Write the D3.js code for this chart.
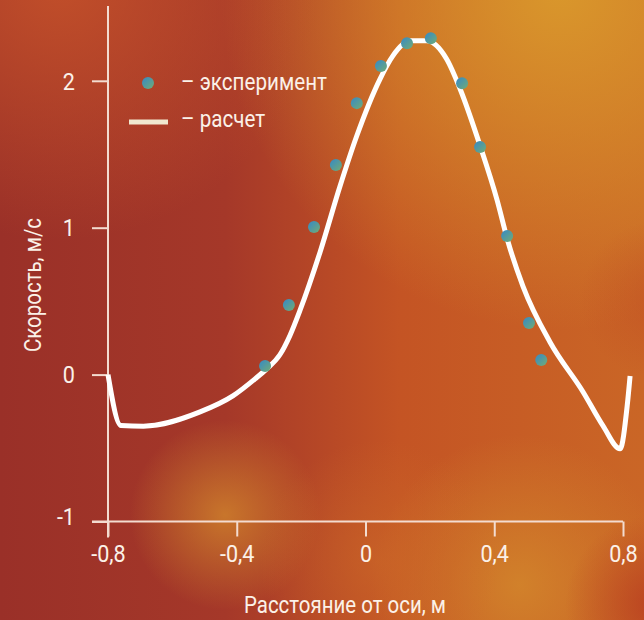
<!DOCTYPE html>
<html>
<head>
<meta charset="utf-8">
<script src="https://cdn.jsdelivr.net/npm/d3@7"></script>
<style>
  body { margin: 0; background: #b8462a; }
  text { font-family: Roboto, "Liberation Sans", sans-serif; fill: #fbf1e8; }
</style>
</head>
<body>
<div id="chart"></div>
<script>
// experiment points (distance from axis, m ; velocity, m/s)
const expX = [-0.312, -0.238, -0.160, -0.092, -0.027, 0.048, 0.129, 0.203, 0.300, 0.356, 0.440, 0.508, 0.546];
const expY = [0.059, 0.474, 1.005, 1.427, 1.848, 2.100, 2.256, 2.290, 1.984, 1.549, 0.944, 0.352, 0.100];

// calculated curve
const calcX = [-0.800, -0.760, -0.690, -0.514, -0.412, -0.343, -0.307, -0.266, -0.235, -0.203, -0.141, -0.079,
  -0.027, 0.045, 0.085, 0.138, 0.190, 0.252, 0.294, 0.356, 0.408, 0.443, 0.489, 0.573, 0.676, 0.738, 0.791, 0.813, 0.822];
const calcY = [0.00, -0.347, -0.351, -0.254, -0.145, -0.029, 0.039, 0.135, 0.265, 0.440, 0.835, 1.284,
  1.626, 2.012, 2.170, 2.272, 2.272, 2.148, 1.944, 1.558, 1.195, 0.903, 0.603, 0.222, -0.118, -0.349, -0.505, -0.213, -0.009];

const xTicks = [-0.8, -0.4, 0, 0.4, 0.8];
const yTicks = [-1, 0, 1, 2];

const legendLabels = ["– эксперимент", "– расчет"];
const xTitle = "Расстояние от оси, м";
const yTitle = "Скорость, м/с";

const width = 644, height = 620;
const squeeze = 0.86; // condensed look for the labels

const svg = d3.select("#chart")
  .append("svg")
  .attr("width", width)
  .attr("height", height);

const defs = svg.append("defs");

// background base, left to right
const base = defs.append("linearGradient").attr("id", "bgBase")
  .attr("x1", 0).attr("x2", 1).attr("y1", 0).attr("y2", 0);
[["0%", "#9a3028"], ["35%", "#a53829"], ["62%", "#c45424"], ["100%", "#ca6626"]]
  .forEach(s => base.append("stop").attr("offset", s[0]).attr("stop-color", s[1]));

svg.append("rect").attr("width", width).attr("height", height).attr("fill", "url(#bgBase)");

// soft colour patches
const patches = [
  {id: "p1", cx: 560, cy: -10, r: 340, c: "#da9a2c", o: 0.95},
  {id: "p2", cx: 60, cy: -20, r: 260, c: "#c8542a", o: 0.85},
  {id: "p3", cx: 225, cy: 515, r: 95, c: "#d48a2c", o: 0.75},
  {id: "p4", cx: 520, cy: 585, r: 150, c: "#d48a2c", o: 0.8},
  {id: "p5", cx: 655, cy: 605, r: 90, c: "#b83c20", o: 0.85},
  {id: "p6", cx: 660, cy: 300, r: 80, c: "#c04a24", o: 0.5},
  {id: "p7", cx: 380, cy: 560, r: 120, c: "#cc6a28", o: 0.6}
];
patches.forEach(p => {
  const g = defs.append("radialGradient").attr("id", p.id)
    .attr("gradientUnits", "userSpaceOnUse")
    .attr("cx", p.cx).attr("cy", p.cy).attr("r", p.r);
  g.append("stop").attr("offset", "0%").attr("stop-color", p.c).attr("stop-opacity", p.o);
  g.append("stop").attr("offset", "100%").attr("stop-color", p.c).attr("stop-opacity", 0);
  svg.append("rect").attr("width", width).attr("height", height).attr("fill", "url(#" + p.id + ")");
});

// dot gradient
const dotGrad = defs.append("linearGradient").attr("id", "dotGrad")
  .attr("x1", 0).attr("y1", 0).attr("x2", 1).attr("y2", 1);
dotGrad.append("stop").attr("offset", "0%").attr("stop-color", "#3489c8");
dotGrad.append("stop").attr("offset", "100%").attr("stop-color", "#72ac74");

const x = d3.scaleLinear().domain([-0.8, 0.8]).range([108, 623]);
const y = d3.scaleLinear().domain([-1, 2]).range([521.5, 80.8]);

const axisColor = "#f3dcd0";
const fmt = d => String(d).replace(".", ",");

// y axis
const yAxis = svg.append("g")
  .attr("transform", "translate(" + x(-0.8) + ",0)")
  .call(d3.axisLeft(y).tickValues(yTicks).tickSize(16).tickFormat(fmt));
yAxis.select(".domain").remove();
yAxis.selectAll("line").attr("stroke", axisColor).attr("stroke-width", 2);
yAxis.selectAll("text")
  .attr("x", -33 / 0.92)
  .attr("dy", d => d === -1 ? "0.12em" : "0.35em")
  .attr("transform", "scale(0.92,1)")
  .style("font-size", "23.5px")
  .style("font-family", "Roboto, sans-serif")
  .attr("fill", "#fbf1e8");

// x axis
const xAxis = svg.append("g")
  .attr("transform", "translate(0," + y(-1) + ")")
  .call(d3.axisBottom(x).tickValues(xTicks).tickSize(15).tickFormat(fmt));
xAxis.select(".domain").remove();
xAxis.selectAll("line").attr("stroke", axisColor).attr("stroke-width", 2);
xAxis.selectAll("text")
  .attr("y", 24)
  .attr("dy", "0.71em")
  .attr("transform", "scale(0.92,1)")
  .style("font-size", "23.5px")
  .style("font-family", "Roboto, sans-serif")
  .attr("fill", "#fbf1e8");

// axis lines
svg.append("line")
  .attr("x1", x(-0.8)).attr("x2", x(-0.8))
  .attr("y1", y(2.51)).attr("y2", y(-1) + 16)
  .attr("stroke", axisColor).attr("stroke-width", 2);
svg.append("line")
  .attr("x1", x(-0.8) - 16).attr("x2", x(0.8))
  .attr("y1", y(-1)).attr("y2", y(-1))
  .attr("stroke", axisColor).attr("stroke-width", 2);

// calculated curve
const calcData = calcX.map((v, i) => [v, calcY[i]]);
const line = d3.line()
  .x(d => x(d[0]))
  .y(d => y(d[1]))
  .curve(d3.curveMonotoneX);

svg.append("path")
  .datum(calcData)
  .attr("d", line)
  .attr("fill", "none")
  .attr("stroke", "#ffffff")
  .attr("stroke-width", 5)
  .attr("stroke-linejoin", "round");

// experiment points
const expData = expX.map((v, i) => [v, expY[i]]);
svg.selectAll(".dot")
  .data(expData)
  .enter()
  .append("circle")
  .attr("class", "dot")
  .attr("cx", d => x(d[0]))
  .attr("cy", d => y(d[1]))
  .attr("r", 6)
  .attr("fill", "url(#dotGrad)");

// legend
const legend = svg.append("g");
legend.append("circle")
  .attr("cx", 148).attr("cy", 83).attr("r", 6)
  .attr("fill", "url(#dotGrad)");
legend.append("line")
  .attr("x1", 129).attr("x2", 168)
  .attr("y1", 122).attr("y2", 122)
  .attr("stroke", "#f1e8cf").attr("stroke-width", 5);
legend.selectAll(".leg-text")
  .data(legendLabels)
  .enter()
  .append("text")
  .attr("class", "leg-text")
  .attr("transform", (d, i) => "translate(181," + (90 + i * 37) + ") scale(" + squeeze + ",1)")
  .style("font-size", "24px")
  .text(d => d);

// axis titles
svg.append("text")
  .attr("transform", "translate(345,613) scale(0.89,1)")
  .attr("text-anchor", "middle")
  .style("font-size", "23px")
  .text(xTitle);

svg.append("text")
  .attr("transform", "translate(41,285) rotate(-90) scale(0.89,1)")
  .attr("text-anchor", "middle")
  .style("font-size", "23px")
  .text(yTitle);
</script>
</body>
</html>
